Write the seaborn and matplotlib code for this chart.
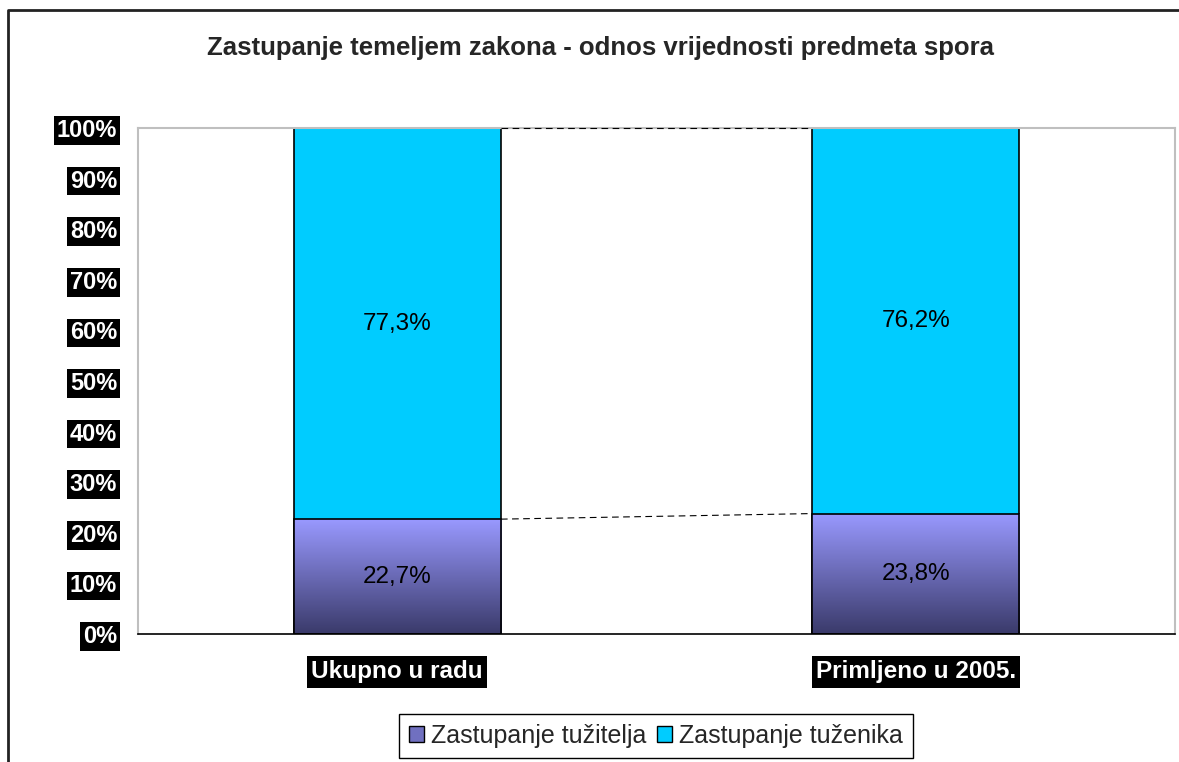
import numpy as np
import pandas as pd
import matplotlib
matplotlib.use("Agg")
import matplotlib.pyplot as plt
import matplotlib.colors as mcolors
from matplotlib.lines import Line2D
from matplotlib.patches import Patch
import seaborn as sns

# data
categories = ["Ukupno u radu", "Primljeno u 2005."]
tuzitelj = [22.7, 23.8]   # Zastupanje tužitelja
tuzenik = [77.3, 76.2]    # Zastupanje tuženika
tuzitelj_labels = ["22,7%", "23,8%"]
tuzenik_labels = ["77,3%", "76,2%"]
yticks = [0, 10, 20, 30, 40, 50, 60, 70, 80, 90, 100]

sns.set_style("white")
plt.rcParams['font.family'] = ['Liberation Sans', 'DejaVu Sans']

df = pd.DataFrame({"kat": categories, "tuzitelj": tuzitelj, "tuzenik": tuzenik})
df["ukupno"] = df["tuzitelj"] + df["tuzenik"]

fig = plt.figure(figsize=(11.79, 7.62), dpi=100)
ax = fig.add_axes([138/1179, 1-634/762, (1175-138)/1179, (634-128)/762])

# stacked look: full total in cyan, then lower part over it
sns.barplot(data=df, x="kat", y="ukupno", color="#00CCFF", width=0.4,
            edgecolor="black", linewidth=1.2, saturation=1, ax=ax)
n = len(categories)
sns.barplot(data=df, x="kat", y="tuzitelj", color="#9999FF", width=0.4,
            edgecolor="black", linewidth=1.2, saturation=1, ax=ax)

top_bars = ax.patches[:n]
low_bars = ax.patches[n:2*n]

# gradient fill on the lower bars
cmap = mcolors.LinearSegmentedColormap.from_list("ljub", ["#3A3A6A", "#9999FF"])
grad = np.linspace(0, 1, 256).reshape(-1, 1)
for p in low_bars:
    x0, y0 = p.get_x(), p.get_y()
    w, h = p.get_width(), p.get_height()
    im = ax.imshow(grad, cmap=cmap, origin="lower", aspect="auto",
                   extent=[x0, x0 + w, y0, y0 + h], zorder=p.get_zorder())
    im.set_clip_path(p)
    p.set_facecolor("none")
    p.set_zorder(p.get_zorder() + 0.5)

# series lines between bars
for bars, vals in [(top_bars, df["ukupno"]), (low_bars, df["tuzitelj"])]:
    for i in range(n - 1):
        xa = bars[i].get_x() + bars[i].get_width()
        xb = bars[i + 1].get_x()
        ax.plot([xa, xb], [vals[i], vals[i + 1]], color="black", lw=0.8,
                ls=(0, (6, 4)), zorder=4, clip_on=False)

# value labels centred in each segment
for i in range(n):
    xc = low_bars[i].get_x() + low_bars[i].get_width() / 2
    ax.text(xc, tuzitelj[i] / 2, tuzitelj_labels[i], ha="center", va="center",
            fontsize=17.5, color="black", zorder=10)
    ax.text(xc, tuzitelj[i] + tuzenik[i] / 2, tuzenik_labels[i], ha="center",
            va="center", fontsize=17.5, color="black", zorder=10)

ax.set_xlim(-0.5, n - 0.5)
ax.set_ylim(0, 100)
ax.set_yticks(yticks)
ax.set_yticklabels([f"{v}%" for v in yticks])
ax.set_xlabel("")
ax.set_ylabel("")

ax.tick_params(axis="y", length=0, pad=15)
ax.tick_params(axis="x", which="major", length=0, pad=19)
ax.set_xticks(np.arange(-0.5, n, 1.0), minor=True)
ax.tick_params(axis="x", which="minor", length=7, color="black", width=1, direction="out")
for lab in ax.get_yticklabels():
    lab.set_fontsize(17)
    lab.set_fontweight("bold")
    lab.set_color("white")
    lab.set_bbox(dict(facecolor="black", edgecolor="none", pad=2))
for lab in ax.get_xticklabels():
    lab.set_fontsize(17.5)
    lab.set_fontweight("bold")
    lab.set_color("white")
    lab.set_bbox(dict(facecolor="black", edgecolor="none", pad=3))

for s in ["left", "top", "right"]:
    ax.spines[s].set_color("#BFBFBF")
    ax.spines[s].set_linewidth(1.5)
ax.spines["bottom"].set_color("black")
ax.spines["bottom"].set_linewidth(1.2)

fig.text(601/1179, 1-48/762, "Zastupanje temeljem zakona - odnos vrijednosti predmeta spora",
         ha="center", va="center", fontsize=18.5, fontweight="bold")

handles = [Patch(facecolor="#7070C0", edgecolor="black", label="Zastupanje tužitelja"),
           Patch(facecolor="#00CCFF", edgecolor="black", label="Zastupanje tuženika")]
leg = fig.legend(handles=handles, loc="center", bbox_to_anchor=(656/1179, 1-736/762),
                 ncol=2, fontsize=18, frameon=True, fancybox=False, framealpha=1,
                 handlelength=0.6, handleheight=0.6, handletextpad=0.3,
                 columnspacing=0.4, borderpad=0.4)
leg.get_frame().set_edgecolor("black")
leg.get_frame().set_linewidth(1)

# outer chart frame (cut off on the right and bottom in the reference)
fig.add_artist(Line2D([8/1179, 8/1179, 1.0], [0.0, 1-10/762, 1-10/762],
                      transform=fig.transFigure, color="#222222", lw=2))

fig.savefig("out.png", dpi=100)
